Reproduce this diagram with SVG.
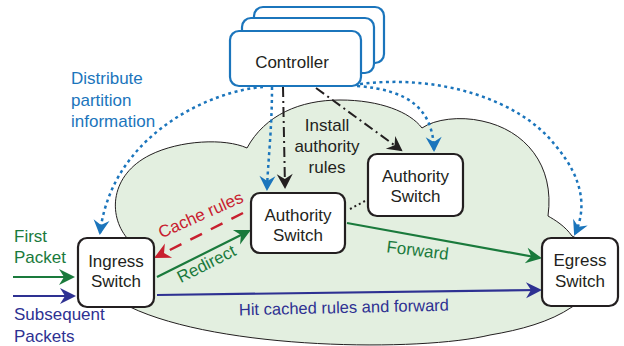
<svg xmlns="http://www.w3.org/2000/svg" width="624" height="346" viewBox="0 0 624 346">
<style>
text{font-family:"Liberation Sans",Arial,sans-serif;}
.node{fill:#fff;stroke:#231f20;stroke-width:2.2;}
.ctrl{fill:#fff;stroke:#1b75bc;stroke-width:2.2;}
.nt{font-size:17px;fill:#231f20;text-anchor:middle;}
.bdot{fill:none;stroke:#1b75bc;stroke-width:2.5;stroke-dasharray:3 3.5;}
.dd{fill:none;stroke:#231f20;stroke-width:2;stroke-dasharray:10 4 2 4;}
.grn{fill:none;stroke:#1a7a3c;stroke-width:2.2;}
.nav{fill:none;stroke:#2e3192;stroke-width:2.2;}
.red{fill:none;stroke:#c8202f;stroke-width:2.5;stroke-dasharray:13 10;}
</style>
<defs>
<marker id="mb" markerUnits="userSpaceOnUse" markerWidth="24" markerHeight="24" viewBox="-16 -12 20 24" refX="0" refY="0" orient="auto"><path d="M2,0 L-13,-8 L-8,0 L-13,8 Z" fill="#1b75bc"/></marker>
<marker id="mk" markerUnits="userSpaceOnUse" markerWidth="24" markerHeight="24" viewBox="-16 -12 20 24" refX="0" refY="0" orient="auto"><path d="M2,0 L-13,-8 L-8,0 L-13,8 Z" fill="#231f20"/></marker>
<marker id="mg" markerUnits="userSpaceOnUse" markerWidth="24" markerHeight="24" viewBox="-16 -12 20 24" refX="0" refY="0" orient="auto"><path d="M2,0 L-14,-8 L-9,0 L-14,8 Z" fill="#1a7a3c"/></marker>
<marker id="mn" markerUnits="userSpaceOnUse" markerWidth="24" markerHeight="24" viewBox="-16 -12 20 24" refX="0" refY="0" orient="auto"><path d="M2,0 L-14,-8 L-9,0 L-14,8 Z" fill="#2e3192"/></marker>
<marker id="mr" markerUnits="userSpaceOnUse" markerWidth="24" markerHeight="24" viewBox="-16 -12 20 24" refX="0" refY="0" orient="auto"><path d="M2,0 L-14,-8 L-9,0 L-14,8 Z" fill="#c8202f"/></marker>
</defs>

<g id="cloud">
<path d="M127,238 C108,215 110,175 150,155 C180,140 225,138 247,148 C265,115 300,100 340,100 C380,100 410,112 422,128 C435,119 460,116 482,121 C525,130 555,165 548,216 C555,220 565,226 572,236 L600,250 L600,290 L572,307 C550,322 520,330 490,335 C420,352 220,350 130,307 Z" fill="#e3efe0" stroke="#231f20" stroke-width="1"/>
</g>

<g id="controller">
<rect class="ctrl" x="254" y="7" width="130" height="56" rx="9"/>
<rect class="ctrl" x="242" y="18" width="132" height="55" rx="9"/>
<rect class="ctrl" x="230" y="31" width="131" height="55" rx="9"/>
<text class="nt" x="292" y="68">Controller</text>
</g>

<g id="connectors">
<path class="bdot" d="M263,87 C215,90 112,132 100,233" marker-end="url(#mb)"/>
<path class="bdot" d="M272,87 C272,130 268,160 267,189" marker-end="url(#mb)"/>
<path class="bdot" d="M357,86 C410,90 433,110 434,150" marker-end="url(#mb)"/>
<path class="bdot" d="M360,84 C440,74 520,100 555,145 C585,180 586,210 575,234" marker-end="url(#mb)"/>
<path class="dd" d="M283,87 L285,187" marker-end="url(#mk)"/>
<path class="dd" d="M316,88 L401,150" marker-end="url(#mk)"/>
<path d="M350,209 L365,201" fill="none" stroke="#231f20" stroke-width="2" stroke-dasharray="2 3"/>
<path class="grn" d="M13,277 L73,277" marker-end="url(#mg)"/>
<path class="nav" d="M13,296 L74,296" marker-end="url(#mn)"/>
<path class="grn" d="M157,277 L249,231" marker-end="url(#mg)"/>
<path class="grn" d="M347,223 L540,258" marker-end="url(#mg)"/>
<path class="nav" d="M157,295 L540,290" marker-end="url(#mn)"/>
<path class="red" d="M243,213 L156,257" marker-end="url(#mr)"/>
</g>

<g id="ingress">
<rect class="node" x="78" y="238" width="76" height="69" rx="9"/>
<text class="nt" x="116" y="267">Ingress</text>
<text class="nt" x="116" y="287">Switch</text>
</g>
<g id="authority1">
<rect class="node" x="251" y="193" width="94" height="60" rx="9"/>
<text class="nt" x="298" y="221">Authority</text>
<text class="nt" x="298" y="241">Switch</text>
</g>
<g id="authority2">
<rect class="node" x="368" y="154" width="95" height="62" rx="9"/>
<text class="nt" x="415.5" y="182">Authority</text>
<text class="nt" x="415.5" y="202">Switch</text>
</g>
<g id="egress">
<rect class="node" x="542" y="238" width="76" height="68" rx="9"/>
<text class="nt" x="580" y="266">Egress</text>
<text class="nt" x="580" y="287">Switch</text>
</g>

<g id="labels">
<text x="71" y="84" font-size="17" fill="#1b75bc">Distribute</text>
<text x="71" y="106" font-size="17" fill="#1b75bc">partition</text>
<text x="71" y="127" font-size="17" fill="#1b75bc">information</text>
<text x="327" y="131" font-size="17" fill="#231f20" text-anchor="middle">Install</text>
<text x="327" y="152" font-size="17" fill="#231f20" text-anchor="middle">authority</text>
<text x="327" y="173" font-size="17" fill="#231f20" text-anchor="middle">rules</text>
<text x="14" y="242" font-size="17" fill="#1a7a3c">First</text>
<text x="14" y="263" font-size="17" fill="#1a7a3c">Packet</text>
<text x="14" y="320" font-size="17" fill="#2e3192">Subsequent</text>
<text x="14" y="342" font-size="17" fill="#2e3192">Packets</text>
<text transform="translate(203,220) rotate(-24)" font-size="17" fill="#c8202f" text-anchor="middle">Cache rules</text>
<text transform="translate(209,269) rotate(-27)" font-size="17" fill="#1a7a3c" text-anchor="middle">Redirect</text>
<text transform="translate(417,256) rotate(7)" font-size="17" fill="#1a7a3c" text-anchor="middle">Forward</text>
<text transform="translate(344,313) rotate(-1.3)" font-size="16.5" fill="#2e3192" text-anchor="middle">Hit cached rules and forward</text>
</g>
</svg>
